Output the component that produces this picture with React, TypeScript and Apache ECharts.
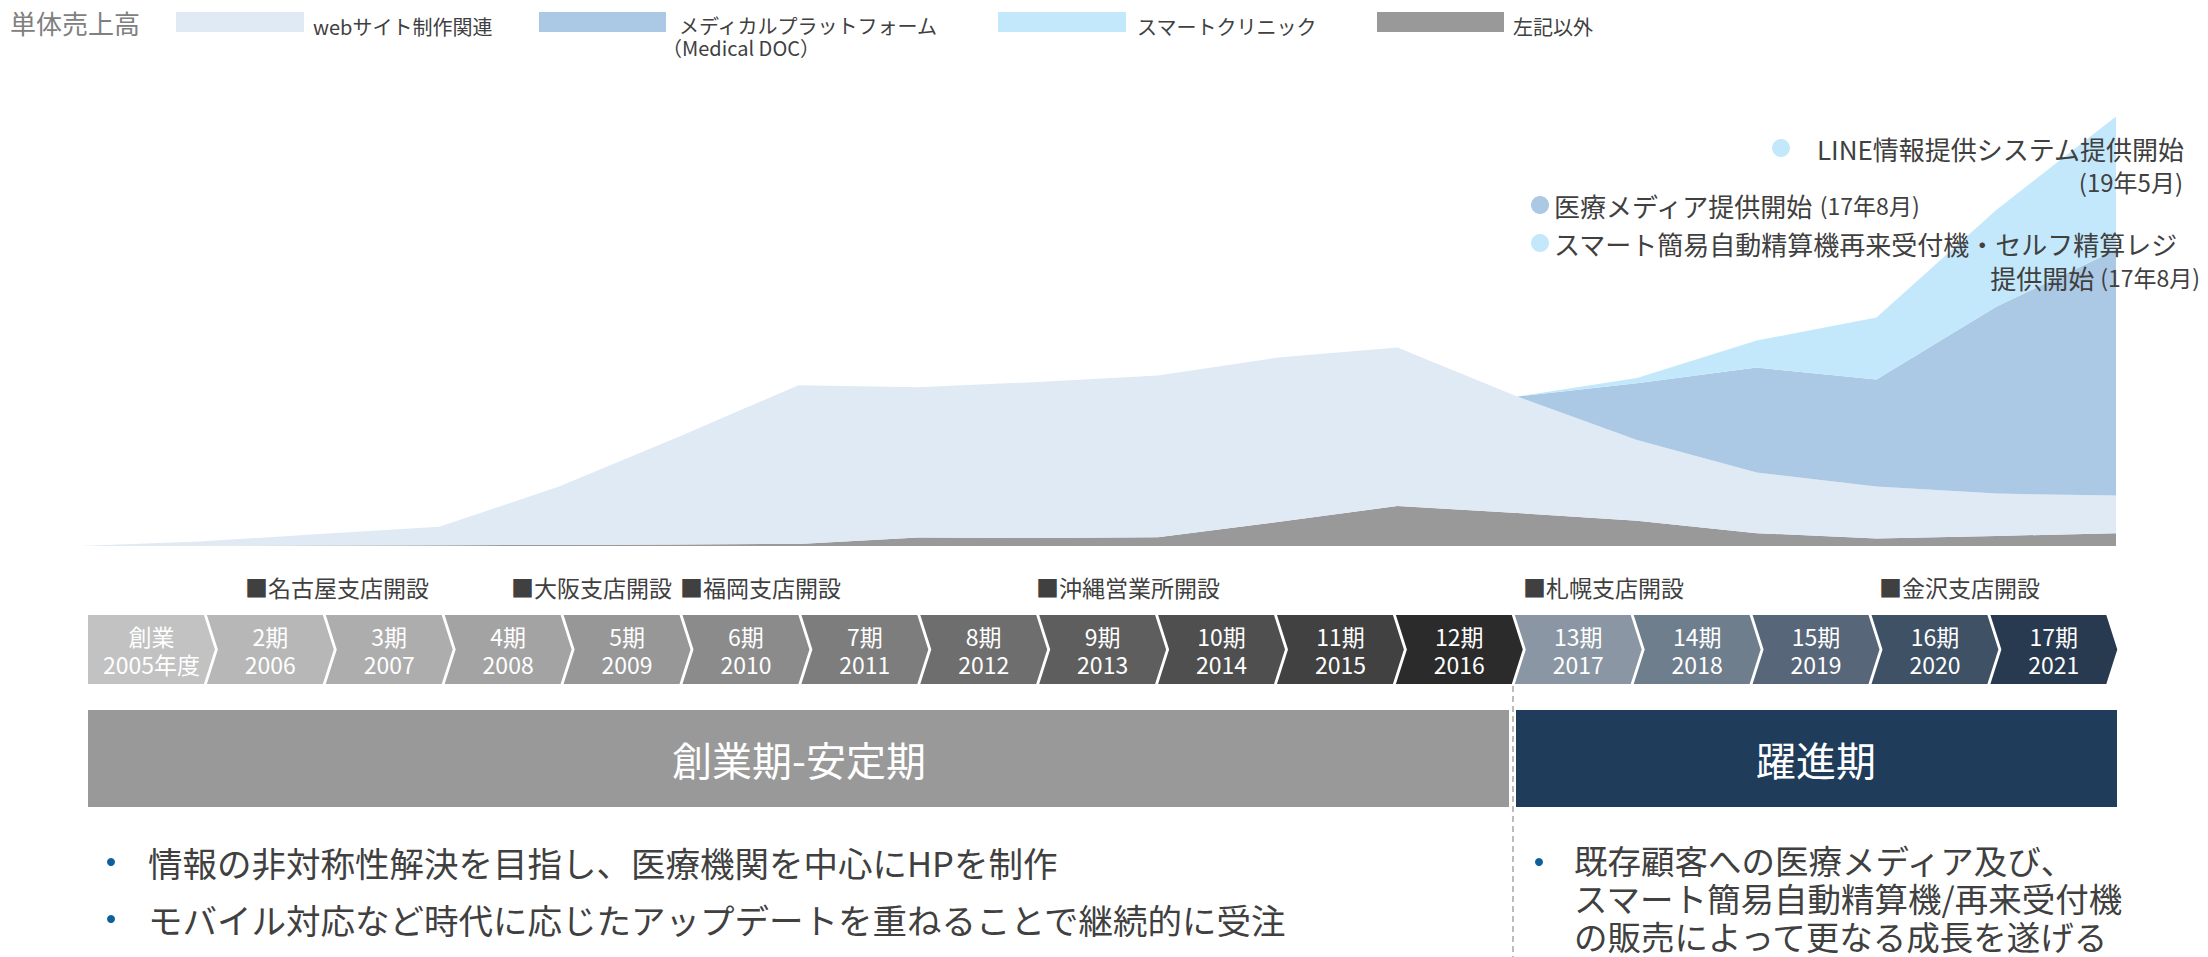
import React, { useEffect, useRef } from 'react';
import * as echarts from 'echarts';

const FONT = '"Noto Sans CJK JP", "Noto Sans", sans-serif';

// Area chart: founding point + fiscal year ends
const pointLabels = ['創業', '2005', '2006', '2007', '2008', '2009', '2010', '2011', '2012', '2013', '2014', '2015', '2016', '2017', '2018', '2019', '2020', '2021'];
const otherValues = [0, 0, 0.1, 0.2, 0.25, 0.4, 0.5, 2.1, 2.0, 2.2, 6.0, 10.0, 8.25, 6.3, 3.2, 1.9, 2.5, 3.2];
const webValues = [0, 1.1, 2.9, 4.6, 14.6, 26.9, 39.7, 37.6, 39.0, 40.4, 41.1, 39.6, 29.1, 20.2, 15.15, 12.95, 10.6, 9.45];
const medicalValues = [0, 0, 0, 0, 0, 0, 0, 0, 0, 0, 0, 0, 0, 14.2, 26.25, 26.8, 46.7, 61.4];
const clinicValues = [0, 0, 0, 0, 0, 0, 0, 0, 0, 0, 0, 0, 0, 1.3, 6.75, 15.5, 24.2, 33.3];

const seriesNames = ['左記以外', 'webサイト制作関連', 'メディカルプラットフォーム', 'スマートクリニック'];

// Timeline
const periods = ['創業', '2期', '3期', '4期', '5期', '6期', '7期', '8期', '9期', '10期', '11期', '12期', '13期', '14期', '15期', '16期', '17期'];
const years = ['2005年度', '2006', '2007', '2008', '2009', '2010', '2011', '2012', '2013', '2014', '2015', '2016', '2017', '2018', '2019', '2020', '2021'];
const milestones = ['名古屋支店開設', '大阪支店開設', '福岡支店開設', '沖縄営業所開設', '札幌支店開設', '金沢支店開設'];

const chevronColors = ['#C2C2C2', '#B7B7B7', '#ADADAD', '#A3A3A3', '#979797', '#8B8B8B', '#7D7D7D', '#6E6E6E', '#5E5E5E', '#4F4F4F', '#414141', '#2B2B2B', '#8A96A3', '#6F7E8D', '#576779', '#3F5165', '#283A4F'];
const areaColors = ['#999999', '#DFEAF5', '#ABC9E5', '#C4E8FB'];

const TEXT = '#404040';

export default function App() {
  const ref = useRef<HTMLDivElement>(null);
  useEffect(() => {
    if (!ref.current) return;
    const chart = echarts.init(ref.current, null, { renderer: 'svg' });
    const areaData = [otherValues, webValues, medicalValues, clinicValues];
    const milestoneX = [245, 511, 680, 1036, 1523, 1879];

    const txt = (text: string, x: number, y: number, size: number, fill = TEXT, align = 'left', extra: any = {}) => ({
      type: 'text',
      style: { text, x, y, fill, font: `${size}px ${FONT}`, textAlign: align, textVerticalAlign: 'middle', ...extra },
      silent: true,
    });

    const richStyle = {
      a: { fontSize: 26, fontFamily: FONT, color: TEXT },
      b: { fontSize: 23, fontFamily: FONT, color: TEXT },
    };

    const graphics: any[] = [
      txt('単体売上高', 10, 22, 26, '#808080'),
      { type: 'rect', shape: { x: 176, y: 12, width: 128, height: 20 }, style: { fill: areaColors[1] } },
      txt('webサイト制作関連', 313, 26, 20),
      { type: 'rect', shape: { x: 539, y: 12, width: 127, height: 20 }, style: { fill: areaColors[2] } },
      txt('メディカルプラットフォーム', 679, 25, 20),
      txt('（Medical DOC）', 662, 47, 20),
      { type: 'rect', shape: { x: 998, y: 12, width: 128, height: 20 }, style: { fill: areaColors[3] } },
      txt('スマートクリニック', 1137, 26, 20),
      { type: 'rect', shape: { x: 1377, y: 12, width: 127, height: 20 }, style: { fill: areaColors[0] } },
      txt('左記以外', 1513, 26, 20),

      { type: 'circle', shape: { cx: 1781, cy: 148, r: 9 }, style: { fill: areaColors[3] } },
      txt('LINE情報提供システム提供開始', 2184, 148, 26, TEXT, 'right'),
      txt('(19年5月)', 2183, 181, 24, TEXT, 'right'),
      { type: 'circle', shape: { cx: 1540, cy: 205, r: 9 }, style: { fill: areaColors[2] } },
      txt('{a|医療メディア提供開始} {b|(17年8月)}', 1554, 205, 26, TEXT, 'left', { rich: richStyle }),
      { type: 'circle', shape: { cx: 1540, cy: 243, r: 9 }, style: { fill: areaColors[3] } },
      txt('スマート簡易自動精算機再来受付機・セルフ精算レジ', 1554, 243, 26),
      txt('{a|提供開始} {b|(17年8月)}', 2200, 277, 26, TEXT, 'right', { rich: richStyle }),

      ...milestones.map((m, i) => txt('■' + m, milestoneX[i], 587, 23)),

      { type: 'line', shape: { x1: 1513, y1: 686, x2: 1513, y2: 957 }, style: { stroke: '#A6A6A6', lineWidth: 1.5, lineDash: [6, 4] } },

      { type: 'rect', shape: { x: 88, y: 710, width: 1421, height: 97 }, style: { fill: '#999999' } },
      txt('創業期-安定期', 799, 759, 40, '#FFFFFF', 'center'),
      { type: 'rect', shape: { x: 1516, y: 710, width: 601, height: 97 }, style: { fill: '#1F3C5B' } },
      txt('躍進期', 1816, 759, 40, '#FFFFFF', 'center'),

      { type: 'circle', shape: { cx: 111, cy: 862, r: 4 }, style: { fill: '#0F5F9A' } },
      txt('情報の非対称性解決を目指し、医療機関を中心にHPを制作', 148, 862, 34.5),
      { type: 'circle', shape: { cx: 111, cy: 919, r: 4 }, style: { fill: '#0F5F9A' } },
      txt('モバイル対応など時代に応じたアップデートを重ねることで継続的に受注', 148, 919, 34.5),
      { type: 'circle', shape: { cx: 1539, cy: 862, r: 4 }, style: { fill: '#0F5F9A' } },
      txt('既存顧客への医療メディア及び、\nスマート簡易自動精算機/再来受付機\nの販売によって更なる成長を遂げる', 1574, 897, 33.5, TEXT, 'left', { lineHeight: 38 }),
    ].map((g) => ({ ...g, z: 100 }));

    const option: any = {
      animation: false,
      backgroundColor: '#FFFFFF',
      grid: [
        { left: 80, width: 2036, top: 106, height: 440 },
        { left: 88, width: 2021.3, top: 615, height: 69 },
      ],
      xAxis: [
        { type: 'category', gridIndex: 0, data: pointLabels, boundaryGap: false, show: false },
        { type: 'category', gridIndex: 1, data: periods, boundaryGap: true, show: false },
      ],
      yAxis: [
        { type: 'value', gridIndex: 0, min: 0, max: 110, show: false },
        { type: 'value', gridIndex: 1, min: 0, max: 1, show: false },
      ],
      series: [
        ...seriesNames.map((name, i) => ({
          name,
          type: 'line',
          xAxisIndex: 0,
          yAxisIndex: 0,
          stack: 'sales',
          data: areaData[i],
          symbol: 'none',
          showSymbol: false,
          lineStyle: { width: 0, opacity: 0 },
          areaStyle: { color: areaColors[i], opacity: 1 },
          itemStyle: { color: areaColors[i] },
          silent: true,
          z: 2,
        })),
        {
          type: 'custom',
          xAxisIndex: 1,
          yAxisIndex: 1,
          clip: false,
          silent: true,
          data: periods.map((_, i) => [i]),
          encode: { x: 0 },
          renderItem: (params: any, api: any) => {
            const idx = api.value(0);
            const c = api.coord([idx, 0.5]);
            const band = api.size([1, 0])[0];
            const top = api.coord([idx, 1])[1];
            const bottom = api.coord([idx, 0])[1];
            const x0 = c[0] - band / 2;
            const gap = 3;
            const d = 11;
            const x1 = x0 + band - gap;
            const mid = (top + bottom) / 2;
            const pts: number[][] = [[x0, top], [x1, top], [x1 + d, mid], [x1, bottom], [x0, bottom]];
            if (idx > 0) pts.push([x0 + d, mid]);
            const textStyle = (t: string, y: number) => ({
              type: 'text',
              style: {
                text: t,
                x: c[0] + 4,
                y,
                textAlign: 'center',
                textVerticalAlign: 'middle',
                fill: '#FFFFFF',
                font: `23px ${FONT}`,
              },
            });
            return {
              type: 'group',
              children: [
                { type: 'polygon', shape: { points: pts }, style: { fill: chevronColors[idx] } },
                textStyle(periods[idx], mid - 14),
                textStyle(years[idx], mid + 14),
              ],
            };
          },
        },
      ],
      graphic: { elements: graphics },
    };
    chart.setOption(option);
    return () => chart.dispose();
  }, []);
  return <div ref={ref} style={{ position: 'fixed', left: 0, top: 0, width: 2208, height: 957 }} />;
}
